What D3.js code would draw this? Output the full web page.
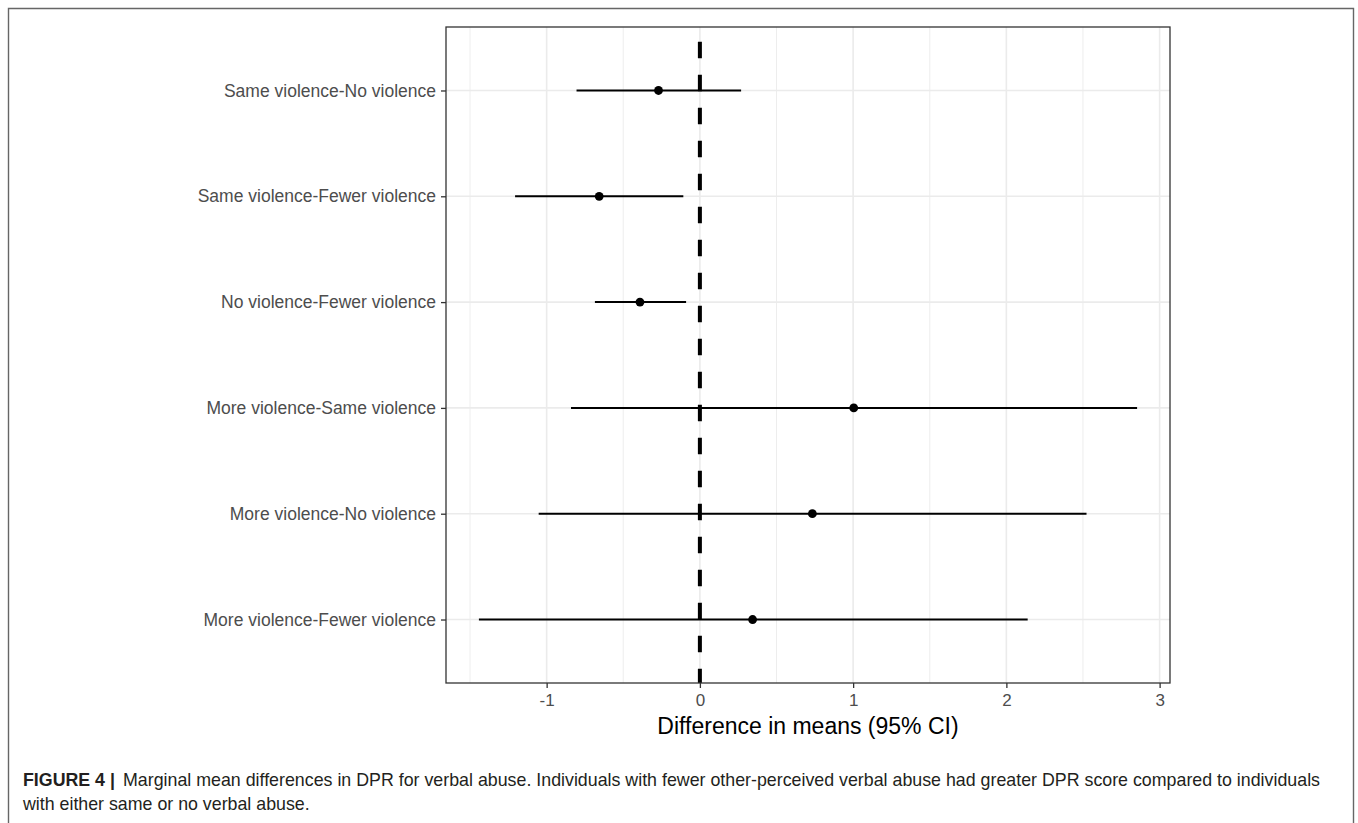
<!DOCTYPE html>
<html>
<head>
<meta charset="utf-8">
<script src="https://cdn.jsdelivr.net/npm/d3@7"></script>
<style>
  html, body { margin: 0; padding: 0; background: #fff; }
  svg { display: block; }
</style>
</head>
<body>
<svg id="chart" width="1358" height="823"></svg>
<script>
// ---- data ----
const categories = [
  "Same violence-No violence",
  "Same violence-Fewer violence",
  "No violence-Fewer violence",
  "More violence-Same violence",
  "More violence-No violence",
  "More violence-Fewer violence"
];
const estimates = [-0.27, -0.657, -0.391, 1.004, 0.734, 0.344];
const lower     = [-0.805, -1.206, -0.685, -0.841, -1.052, -1.442];
const upper     = [0.269, -0.108, -0.09, 2.853, 2.523, 2.139];
const xTicks = [-1, 0, 1, 2, 3];
const xTickLabels = ["-1", "0", "1", "2", "3"];
const xMinor = [-1.5, -0.5, 0.5, 1.5, 2.5];
const xTitle = "Difference in means (95% CI)";
const captionBold = "FIGURE 4 |";
const captionLine1 = "Marginal mean differences in DPR for verbal abuse. Individuals with fewer other-perceived verbal abuse had greater DPR score compared to individuals";
const captionLine2 = "with either same or no verbal abuse.";

const svg = d3.select("#chart");
const W = 1358, H = 823;
const panel = { x0: 446, x1: 1170, y0: 27, y1: 683 };
const FONT = "'Liberation Sans', Arial, Helvetica, sans-serif";

// outer frame
svg.append("path")
  .attr("d", `M8.5,${H + 5} V8.5 H1353.5 V${H + 5}`)
  .attr("fill", "none").attr("stroke", "#666").attr("stroke-width", 1.4);

// scales (ggplot-style 5% expansion)
const lo = d3.min(lower), hi = d3.max(upper), span = hi - lo;
const x = d3.scaleLinear().domain([lo - 0.05 * span, hi + 0.05 * span]).range([panel.x0, panel.x1]);
const y = d3.scalePoint().domain(categories).range([panel.y0, panel.y1]).padding(0.6);

const g = svg.append("g");

// panel background
g.append("rect").attr("x", panel.x0).attr("y", panel.y0)
  .attr("width", panel.x1 - panel.x0).attr("height", panel.y1 - panel.y0)
  .attr("fill", "#fff");

// minor gridlines
g.selectAll(".minor").data(xMinor).join("line")
  .attr("x1", d => x(d)).attr("x2", d => x(d))
  .attr("y1", panel.y0).attr("y2", panel.y1)
  .attr("stroke", "#ebebeb").attr("stroke-width", 0.9);
// major gridlines
g.selectAll(".majorx").data(xTicks).join("line")
  .attr("x1", d => x(d)).attr("x2", d => x(d))
  .attr("y1", panel.y0).attr("y2", panel.y1)
  .attr("stroke", "#ebebeb").attr("stroke-width", 1.6);
g.selectAll(".majory").data(categories).join("line")
  .attr("x1", panel.x0).attr("x2", panel.x1)
  .attr("y1", d => y(d)).attr("y2", d => y(d))
  .attr("stroke", "#ebebeb").attr("stroke-width", 1.6);

// error bars
g.selectAll(".err").data(categories).join("line")
  .attr("x1", (d, i) => x(lower[i])).attr("x2", (d, i) => x(upper[i]))
  .attr("y1", d => y(d)).attr("y2", d => y(d))
  .attr("stroke", "#000").attr("stroke-width", 2);

// vertical dashed reference line at 0
g.append("line")
  .attr("x1", x(0)).attr("x2", x(0))
  .attr("y1", panel.y0).attr("y2", panel.y1)
  .attr("stroke", "#000").attr("stroke-width", 4)
  .attr("stroke-dasharray", "16.5,16.5").attr("stroke-dashoffset", 18.3);

// points
g.selectAll(".pt").data(categories).join("circle")
  .attr("cx", (d, i) => x(estimates[i])).attr("cy", d => y(d))
  .attr("r", 4.4).attr("fill", "#000");

// panel border
g.append("rect").attr("x", panel.x0).attr("y", panel.y0)
  .attr("width", panel.x1 - panel.x0).attr("height", panel.y1 - panel.y0)
  .attr("fill", "none").attr("stroke", "#333").attr("stroke-width", 1.3);

// axes
const xAxis = d3.axisBottom(x).tickValues(xTicks).tickSize(5).tickPadding(6)
  .tickFormat((d, i) => xTickLabels[i]);
const gx = svg.append("g").attr("transform", `translate(0,${panel.y1})`).call(xAxis);
gx.select(".domain").remove();
gx.selectAll(".tick line").attr("stroke", "#333").attr("stroke-width", 1.3);
gx.selectAll(".tick text").attr("fill", "#4d4d4d").style("font-family", FONT).style("font-size", "17px");

const yAxis = d3.axisLeft(y).tickSize(5).tickPadding(5);
const gy = svg.append("g").attr("transform", `translate(${panel.x0},0)`).call(yAxis);
gy.select(".domain").remove();
gy.selectAll(".tick line").attr("stroke", "#333").attr("stroke-width", 1.3);
gy.selectAll(".tick text").attr("fill", "#4d4d4d").style("font-family", FONT).style("font-size", "17.5px");

// x-axis title
svg.append("text")
  .attr("x", (panel.x0 + panel.x1) / 2).attr("y", 734)
  .attr("text-anchor", "middle")
  .style("font-family", FONT).style("font-size", "23px").attr("fill", "#000")
  .text(xTitle);

// caption
svg.append("text").attr("x", 23).attr("y", 786)
  .style("font-family", FONT).style("font-size", "17.8px").style("font-weight", "bold")
  .attr("fill", "#231f20").text(captionBold);
svg.append("text").attr("x", 123).attr("y", 786)
  .style("font-family", FONT).style("font-size", "17.8px")
  .attr("fill", "#231f20")
  .attr("textLength", 1197).attr("lengthAdjust", "spacingAndGlyphs")
  .text(captionLine1);
svg.append("text").attr("x", 23).attr("y", 810)
  .style("font-family", FONT).style("font-size", "17.8px")
  .attr("fill", "#231f20").text(captionLine2);
</script>
</body>
</html>
